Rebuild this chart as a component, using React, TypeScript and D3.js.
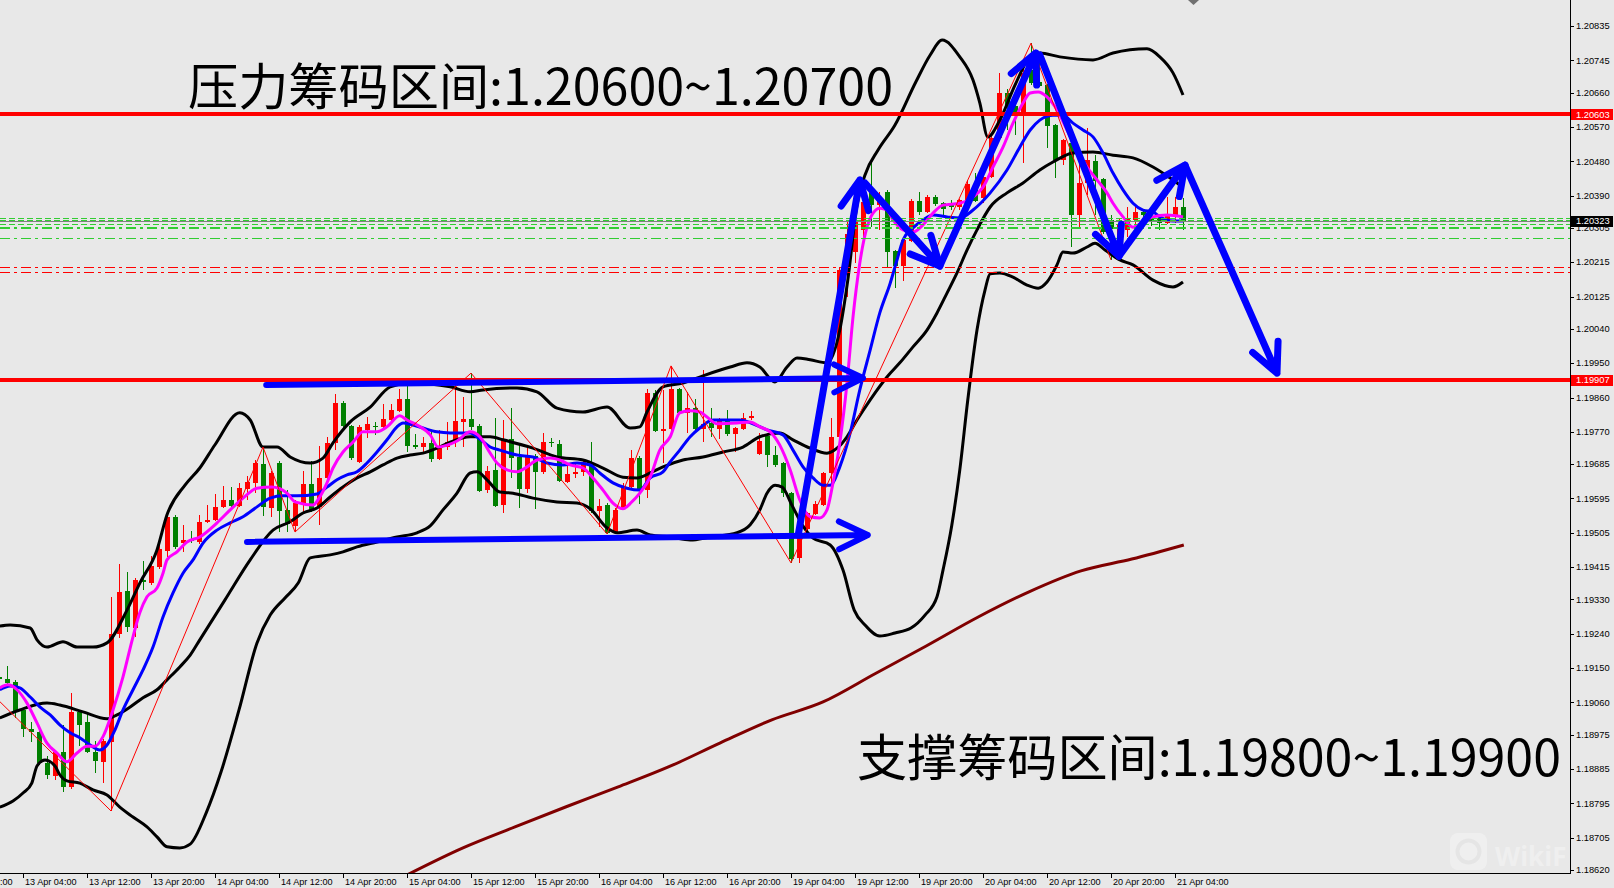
import React from 'react';
import * as d3 from 'd3';

// ---------------- data ----------------
const FIRST_BAR = -3; // index of first candle (13 Apr 04:00 = 0, one bar per hour, weekend removed)
// [open, high, low, close]
const ohlc: number[][] = [
  [1.19127, 1.19140, 1.19114, 1.19121], // -3
  [1.19121, 1.19155, 1.19106, 1.19111],
  [1.19114, 1.19119, 1.19019, 1.19035],
  [1.19040, 1.19045, 1.18970, 1.18990], // 0
  [1.18990, 1.19009, 1.18956, 1.18983],
  [1.18983, 1.18988, 1.18896, 1.18901],
  [1.18901, 1.18919, 1.18859, 1.18870],
  [1.18867, 1.18935, 1.18856, 1.18930],
  [1.18930, 1.19001, 1.18825, 1.18838], // 5
  [1.18838, 1.19085, 1.18832, 1.19035],
  [1.19035, 1.19040, 1.18945, 1.19001],
  [1.19009, 1.19032, 1.18927, 1.18930],
  [1.18930, 1.18958, 1.18875, 1.18906],
  [1.18904, 1.18964, 1.18848, 1.18958], // 10
  [1.18956, 1.19337, 1.18775, 1.19240],
  [1.19240, 1.19424, 1.19229, 1.19350],
  [1.19352, 1.19402, 1.19245, 1.19258],
  [1.19255, 1.19386, 1.19232, 1.19381],
  [1.19381, 1.19431, 1.19355, 1.19376], // 15
  [1.19373, 1.19444, 1.19368, 1.19418],
  [1.19415, 1.19476, 1.19410, 1.19463],
  [1.19457, 1.19557, 1.19442, 1.19547],
  [1.19547, 1.19552, 1.19463, 1.19468],
  [1.19478, 1.19526, 1.19455, 1.19486], // 20
  [1.19489, 1.19510, 1.19478, 1.19484],
  [1.19481, 1.19552, 1.19476, 1.19534],
  [1.19534, 1.19578, 1.19531, 1.19539],
  [1.19539, 1.19607, 1.19536, 1.19573],
  [1.19573, 1.19628, 1.19570, 1.19591], // 25
  [1.19591, 1.19625, 1.19565, 1.19575],
  [1.19575, 1.19636, 1.19573, 1.19622],
  [1.19620, 1.19654, 1.19591, 1.19638],
  [1.19636, 1.19696, 1.19609, 1.19688],
  [1.19686, 1.19730, 1.19549, 1.19573], // 30
  [1.19570, 1.19667, 1.19547, 1.19662],
  [1.19688, 1.19693, 1.19507, 1.19562],
  [1.19565, 1.19617, 1.19507, 1.19528],
  [1.19523, 1.19591, 1.19507, 1.19583],
  [1.19583, 1.19667, 1.19560, 1.19633], // 35
  [1.19633, 1.19693, 1.19560, 1.19565],
  [1.19573, 1.19733, 1.19526, 1.19649],
  [1.19649, 1.19757, 1.19646, 1.19741],
  [1.19741, 1.19869, 1.19722, 1.19846],
  [1.19846, 1.19851, 1.19772, 1.19785], // 40
  [1.19785, 1.19788, 1.19696, 1.19701],
  [1.19691, 1.19788, 1.19688, 1.19783],
  [1.19775, 1.19809, 1.19754, 1.19791],
  [1.19785, 1.19796, 1.19762, 1.19783],
  [1.19783, 1.19843, 1.19780, 1.19804], // 45
  [1.19801, 1.19843, 1.19798, 1.19827],
  [1.19825, 1.19883, 1.19822, 1.19856],
  [1.19856, 1.19893, 1.19717, 1.19733],
  [1.19736, 1.19765, 1.19725, 1.19730],
  [1.19730, 1.19757, 1.19717, 1.19741], // 50
  [1.19741, 1.19772, 1.19691, 1.19699],
  [1.19699, 1.19775, 1.19696, 1.19730],
  [1.19730, 1.19796, 1.19722, 1.19743],
  [1.19743, 1.19898, 1.19730, 1.19798],
  [1.19796, 1.19861, 1.19730, 1.19804], // 55
  [1.19804, 1.19924, 1.19775, 1.19783],
  [1.19785, 1.19791, 1.19612, 1.19615],
  [1.19617, 1.19680, 1.19609, 1.19667],
  [1.19670, 1.19806, 1.19573, 1.19575],
  [1.19578, 1.19801, 1.19557, 1.19751], // 60
  [1.19751, 1.19832, 1.19649, 1.19701],
  [1.19704, 1.19741, 1.19570, 1.19620],
  [1.19620, 1.19730, 1.19609, 1.19706],
  [1.19706, 1.19712, 1.19568, 1.19665],
  [1.19665, 1.19767, 1.19659, 1.19743], // 65
  [1.19743, 1.19754, 1.19730, 1.19741],
  [1.19738, 1.19749, 1.19638, 1.19641],
  [1.19638, 1.19688, 1.19636, 1.19659],
  [1.19659, 1.19691, 1.19649, 1.19665],
  [1.19665, 1.19696, 1.19654, 1.19691], // 70
  [1.19686, 1.19743, 1.19557, 1.19562],
  [1.19562, 1.19594, 1.19520, 1.19575],
  [1.19578, 1.19583, 1.19502, 1.19505],
  [1.19505, 1.19570, 1.19502, 1.19565],
  [1.19568, 1.19636, 1.19565, 1.19628], // 75
  [1.19625, 1.19722, 1.19622, 1.19701],
  [1.19701, 1.19706, 1.19580, 1.19617],
  [1.19617, 1.19883, 1.19596, 1.19872],
  [1.19872, 1.19880, 1.19770, 1.19772],
  [1.19772, 1.19880, 1.19688, 1.19777], // 80
  [1.19777, 1.19943, 1.19762, 1.19883],
  [1.19883, 1.19885, 1.19817, 1.19820],
  [1.19820, 1.19875, 1.19767, 1.19833],
  [1.19833, 1.19856, 1.19767, 1.19777],
  [1.19777, 1.19932, 1.19743, 1.19791], // 85
  [1.19793, 1.19832, 1.19757, 1.19780],
  [1.19777, 1.19806, 1.19751, 1.19801],
  [1.19801, 1.19827, 1.19759, 1.19765],
  [1.19765, 1.19783, 1.19717, 1.19780],
  [1.19777, 1.19820, 1.19775, 1.19806], // 90
  [1.19806, 1.19825, 1.19801, 1.19811],
  [1.19712, 1.19767, 1.19709, 1.19746],
  [1.19759, 1.19767, 1.19678, 1.19709],
  [1.19709, 1.19733, 1.19678, 1.19683],
  [1.19688, 1.19691, 1.19599, 1.19609], // 95
  [1.19609, 1.19612, 1.19426, 1.19437],
  [1.19439, 1.19520, 1.19426, 1.19512],
  [1.19515, 1.19560, 1.19507, 1.19557],
  [1.19554, 1.19589, 1.19552, 1.19581],
  [1.19578, 1.19665, 1.19575, 1.19662], // 100
  [1.19662, 1.19806, 1.19625, 1.19757],
  [1.19757, 1.20203, 1.19754, 1.20195],
  [1.20195, 1.20321, 1.20124, 1.20289],
  [1.20242, 1.20352, 1.20213, 1.20321],
  [1.20300, 1.20399, 1.20273, 1.20373], // 105
  [1.20410, 1.20475, 1.20308, 1.20365],
  [1.20365, 1.20399, 1.20300, 1.20386],
  [1.20399, 1.20405, 1.20200, 1.20242],
  [1.20244, 1.20247, 1.20147, 1.20205],
  [1.20205, 1.20279, 1.20166, 1.20273], // 110
  [1.20271, 1.20381, 1.20268, 1.20376],
  [1.20376, 1.20399, 1.20339, 1.20347],
  [1.20347, 1.20391, 1.20344, 1.20386],
  [1.20386, 1.20391, 1.20363, 1.20368],
  [1.20370, 1.20373, 1.20334, 1.20355], // 115
  [1.20365, 1.20378, 1.20352, 1.20360],
  [1.20360, 1.20381, 1.20352, 1.20378],
  [1.20378, 1.20431, 1.20376, 1.20420],
  [1.20407, 1.20449, 1.20373, 1.20376],
  [1.20384, 1.20449, 1.20370, 1.20439], // 120
  [1.20439, 1.20554, 1.20436, 1.20541],
  [1.20541, 1.20712, 1.20536, 1.20659],
  [1.20659, 1.20670, 1.20562, 1.20622],
  [1.20625, 1.20641, 1.20549, 1.20607],
  [1.20607, 1.20738, 1.20475, 1.20712], // 125
  [1.20720, 1.20790, 1.20680, 1.20685],
  [1.20688, 1.20764, 1.20675, 1.20677],
  [1.20680, 1.20683, 1.20515, 1.20573],
  [1.20575, 1.20578, 1.20436, 1.20483],
  [1.20483, 1.20538, 1.20470, 1.20536], // 130
  [1.20528, 1.20530, 1.20255, 1.20339],
  [1.20339, 1.20475, 1.20302, 1.20423],
  [1.20423, 1.20567, 1.20391, 1.20483],
  [1.20481, 1.20496, 1.20339, 1.20428],
  [1.20433, 1.20436, 1.20289, 1.20294], // 135
  [1.20326, 1.20339, 1.20221, 1.20302],
  [1.20279, 1.20331, 1.20260, 1.20315],
  [1.20300, 1.20360, 1.20281, 1.20328],
  [1.20326, 1.20363, 1.20310, 1.20347],
  [1.20347, 1.20349, 1.20321, 1.20339], // 140
  [1.20334, 1.20352, 1.20310, 1.20321],
  [1.20331, 1.20342, 1.20300, 1.20318],
  [1.20318, 1.20386, 1.20315, 1.20342],
  [1.20339, 1.20386, 1.20318, 1.20360],
  [1.20360, 1.20384, 1.20300, 1.20323], // 145
];

const TIME_LABEL_FIRST = -8;
const TIME_LABEL_STEP = 8;
const timeLabels = [
  '12 Apr 20:00', '13 Apr 04:00', '13 Apr 12:00', '13 Apr 20:00', '14 Apr 04:00', '14 Apr 12:00',
  '14 Apr 20:00', '15 Apr 04:00', '15 Apr 12:00', '15 Apr 20:00', '16 Apr 04:00', '16 Apr 12:00',
  '16 Apr 20:00', '19 Apr 04:00', '19 Apr 12:00', '19 Apr 20:00', '20 Apr 04:00', '20 Apr 12:00',
  '20 Apr 20:00', '21 Apr 04:00',
];

const priceTicks = [
  '1.20835', '1.20745', '1.20660', '1.20570', '1.20480', '1.20390', '1.20305', '1.20215', '1.20125',
  '1.20040', '1.19950', '1.19860', '1.19770', '1.19685', '1.19595', '1.19505', '1.19415', '1.19330',
  '1.19240', '1.19150', '1.19060', '1.18975', '1.18885', '1.18795', '1.18705', '1.18620',
];

const resistanceLevel = 1.20603;
const supportLevel = 1.19907;
const bidPrice = 1.20323;
const greenDashLevels = [1.20332, 1.20327, 1.20316];
const greenDashDotLevels = [1.20308, 1.20278];
const redDashDotLevels = [1.20203, 1.20189];

// [bar index, price]
const maFast: [number, number][] = [
  [-2.9, 1.19098], [-1.9, 1.19106], [-0.75, 1.19093], [0.5, 1.19058], [1.75, 1.19006], [3, 1.18953],
  [4.25, 1.18927], [5.5, 1.18904], [6.75, 1.18927], [8, 1.18945], [9, 1.18945], [10, 1.18970],
  [11.25, 1.19040], [12.5, 1.19127], [13.75, 1.19232], [14.6, 1.19295], [15.5, 1.19337], [16.75, 1.19360],
  [17.5, 1.19399], [18, 1.19434], [19.25, 1.19455], [20.5, 1.19481], [22.1, 1.19494], [24.25, 1.19531],
  [25.9, 1.19565], [27.5, 1.19596], [29.25, 1.19622], [31.1, 1.19625], [33, 1.19609], [34, 1.19586],
  [36.25, 1.19578], [37.1, 1.19599], [38, 1.19636], [38.75, 1.19675], [40, 1.19717], [41.25, 1.19743],
  [42.5, 1.19770], [44.25, 1.19770], [45.5, 1.19783], [47.1, 1.19812], [48, 1.19801], [49.25, 1.19788],
  [50.9, 1.19762], [51.9, 1.19730], [53, 1.19735], [54.25, 1.19746], [55.9, 1.19770], [57.1, 1.19757],
  [58.4, 1.19714], [59.25, 1.19688], [60.5, 1.19670], [61.75, 1.19665], [63, 1.19678], [64.25, 1.19696],
  [65.9, 1.19701], [67.1, 1.19696], [68.4, 1.19683], [70, 1.19675], [71.25, 1.19649], [72.5, 1.19617],
  [73.75, 1.19583], [75, 1.19568], [76.1, 1.19586], [77.1, 1.19609], [78.4, 1.19651], [79.6, 1.19722],
  [80.9, 1.19757], [82.1, 1.19820], [83.4, 1.19825], [84.6, 1.19822], [85.5, 1.19809], [86.75, 1.19791],
  [89.25, 1.19793], [90.9, 1.19796], [92.1, 1.19783], [93.4, 1.19770], [94.6, 1.19735], [95.9, 1.19670],
  [97.1, 1.19591], [98.4, 1.19547], [99.6, 1.19544], [100.5, 1.19565], [101.25, 1.19636], [102.1, 1.19741],
  [103, 1.19898], [103.75, 1.20071], [104.6, 1.20213], [105.5, 1.20307], [106.25, 1.20344], [107.1, 1.20357],
  [108, 1.20352], [108.75, 1.20326], [110, 1.20300], [111.25, 1.20294], [112.5, 1.20313], [113.75, 1.20344],
  [115, 1.20365], [117.1, 1.20370], [118.75, 1.20386], [120, 1.20412], [121.25, 1.20465], [122.5, 1.20517],
  [123.75, 1.20580], [125, 1.20633], [125.9, 1.20659], [126.9, 1.20662], [128, 1.20649], [129.25, 1.20615],
  [130.5, 1.20562], [131.75, 1.20510], [133, 1.20465], [134.25, 1.20431], [135.5, 1.20397], [136.25, 1.20370],
  [137.5, 1.20334], [138.75, 1.20307], [140, 1.20321], [141.25, 1.20334], [143, 1.20339], [145, 1.20334],
];

const maSlow: [number, number][] = [
  [-2.9, 1.19093], [-1.6, 1.19103], [-0.4, 1.19098], [0.9, 1.19074], [2.1, 1.19048], [3.4, 1.19027],
  [4.6, 1.19001], [5.9, 1.18980], [7.1, 1.18967], [8.4, 1.18948], [9.6, 1.18935], [10.5, 1.18948],
  [11.5, 1.18988], [12.5, 1.19040], [13.75, 1.19093], [15, 1.19145], [16.25, 1.19205], [17.5, 1.19284],
  [18.75, 1.19347], [20, 1.19399], [21.25, 1.19434], [22.5, 1.19478], [24.25, 1.19512], [25.9, 1.19531],
  [27.5, 1.19547], [29.25, 1.19573], [30.9, 1.19596], [32.5, 1.19602], [34.25, 1.19602], [36.75, 1.19607],
  [38, 1.19625], [39.25, 1.19644], [40.5, 1.19657], [41.75, 1.19665], [43, 1.19688], [44.25, 1.19717],
  [45.5, 1.19749], [46.75, 1.19783], [47.5, 1.19793], [48.75, 1.19788], [50, 1.19780], [51.75, 1.19770],
  [53.4, 1.19767], [55.9, 1.19767], [57.1, 1.19751], [58.4, 1.19730], [59.6, 1.19722], [61.75, 1.19709],
  [63.75, 1.19704], [65.5, 1.19688], [67.5, 1.19683], [69.25, 1.19688], [70.9, 1.19683], [72.1, 1.19662],
  [73.75, 1.19636], [75.5, 1.19622], [77.1, 1.19617], [78.4, 1.19649], [80, 1.19665], [80.9, 1.19691],
  [82.1, 1.19722], [83.4, 1.19757], [84.6, 1.19780], [86.25, 1.19801], [89.6, 1.19801], [91.25, 1.19791],
  [93, 1.19775], [95, 1.19762], [96.25, 1.19722], [97.5, 1.19678], [98.75, 1.19649], [100, 1.19630],
  [100.9, 1.19630], [102.1, 1.19678], [103.4, 1.19767], [104.6, 1.19880], [105.9, 1.19985], [107.1, 1.20082],
  [108.4, 1.20160], [109.25, 1.20221], [110, 1.20273], [111.25, 1.20305], [112.5, 1.20326], [113.75, 1.20339],
  [115.5, 1.20334], [117.1, 1.20331], [118.75, 1.20352], [120.9, 1.20397], [123, 1.20457], [124.6, 1.20517],
  [125.9, 1.20562], [127.1, 1.20588], [128.75, 1.20601], [130, 1.20601], [131.25, 1.20580], [132.5, 1.20562],
  [133.75, 1.20544], [135, 1.20502], [136.25, 1.20449], [137.5, 1.20405], [138.75, 1.20370], [140, 1.20352],
  [141.25, 1.20347], [142.1, 1.20334], [143.75, 1.20323], [145, 1.20323],
];

const bbUpper: [number, number][] = [
  [-2.9, 1.19260], [-1.6, 1.19263], [0.9, 1.19255], [1.75, 1.19224], [3, 1.19205], [5, 1.19219],
  [6.75, 1.19205], [8.75, 1.19205], [10.5, 1.19216], [13, 1.19302], [14.6, 1.19373], [16.75, 1.19460],
  [18, 1.19552], [20.25, 1.19630], [22.1, 1.19675], [24, 1.19736], [27.1, 1.19820], [28.4, 1.19801],
  [30, 1.19730], [31.75, 1.19730], [33.4, 1.19704], [35.9, 1.19688], [37.5, 1.19701], [38.75, 1.19741],
  [40.9, 1.19796], [43.4, 1.19835], [45.9, 1.19888], [48.4, 1.19898], [53.4, 1.19888], [55.9, 1.19875],
  [57.5, 1.19880], [61.75, 1.19885], [64.25, 1.19875], [66.75, 1.19832], [70, 1.19822], [73, 1.19835],
  [75.9, 1.19780], [77.1, 1.19783], [78, 1.19822], [80, 1.19888], [82.5, 1.19898], [85, 1.19917],
  [88.4, 1.19940], [90.5, 1.19951], [92.1, 1.19940], [94, 1.19901], [95.5, 1.19940], [96.75, 1.19964],
  [98.4, 1.19959], [100.5, 1.19951], [102.1, 1.20037], [103.1, 1.20168], [104.25, 1.20365], [105.25, 1.20444],
  [106.9, 1.20510], [109, 1.20575], [111.6, 1.20688], [113.4, 1.20759], [114.9, 1.20798], [117.1, 1.20754],
  [118.75, 1.20693], [119.6, 1.20633], [120.6, 1.20544], [122.1, 1.20588], [124, 1.20680], [125.9, 1.20754],
  [127.1, 1.20764], [129.6, 1.20754], [133.75, 1.20746], [136.25, 1.20764], [140.5, 1.20775], [142.1, 1.20754],
  [143.75, 1.20712], [145, 1.20654],
];

const bbMiddle: [number, number][] = [
  [-2.9, 1.19019], [-0.4, 1.19040], [3, 1.19058], [4.6, 1.19053], [7.5, 1.19035], [10.5, 1.19017],
  [11.75, 1.19027], [13.4, 1.19048], [15, 1.19072], [16.75, 1.19093], [18, 1.19119], [19.6, 1.19153],
  [20.9, 1.19184], [22.1, 1.19224], [25.25, 1.19329], [28.4, 1.19434], [31.25, 1.19512], [33.4, 1.19534],
  [35, 1.19557], [36.75, 1.19570], [38.4, 1.19599], [40, 1.19625], [41.75, 1.19649], [43.4, 1.19665],
  [45, 1.19683], [46.75, 1.19701], [48.4, 1.19709], [50, 1.19714], [51.75, 1.19727], [53.4, 1.19743],
  [55.9, 1.19757], [58.4, 1.19757], [60, 1.19749], [63.75, 1.19727], [66.75, 1.19704], [70, 1.19696],
  [72.5, 1.19675], [75, 1.19651], [76.75, 1.19649], [78.4, 1.19662], [80, 1.19678], [82.5, 1.19696],
  [85, 1.19704], [87.5, 1.19717], [90, 1.19730], [92.1, 1.19757], [94.6, 1.19767], [96.25, 1.19749],
  [98.4, 1.19727], [100.5, 1.19714], [101.75, 1.19727], [103, 1.19757], [104.25, 1.19801], [105.9, 1.19854],
  [108, 1.19914], [109.6, 1.19951], [111.25, 1.19993], [113, 1.20037], [114.25, 1.20082], [115.5, 1.20134],
  [116.75, 1.20187], [118, 1.20247], [119.25, 1.20300], [120.9, 1.20360], [123, 1.20397], [125, 1.20423],
  [127.1, 1.20457], [128.75, 1.20478], [131.25, 1.20502], [133.75, 1.20504], [136.25, 1.20496], [138.75, 1.20489],
  [141.25, 1.20465], [143.75, 1.20431], [145, 1.20412],
];

const bbLower: [number, number][] = [
  [-2.9, 1.18785], [-1.25, 1.18801], [0, 1.18822], [1.1, 1.18848], [1.75, 1.18893], [2.75, 1.18909],
  [4, 1.18893], [4.6, 1.18870], [5.5, 1.18854], [7.1, 1.18848], [8.75, 1.18830], [10.5, 1.18817],
  [12.1, 1.18785], [13.75, 1.18759], [15.5, 1.18733], [16.75, 1.18707], [18, 1.18681], [19.6, 1.18678],
  [20.9, 1.18688], [22.9, 1.18770], [24.75, 1.18877], [27, 1.19040], [29.25, 1.19216], [30.9, 1.19289],
  [32.75, 1.19334], [34.4, 1.19373], [35.9, 1.19439], [38.4, 1.19447], [40, 1.19455], [41.75, 1.19468],
  [44.25, 1.19481], [46.75, 1.19494], [49.25, 1.19505], [50.9, 1.19523], [52.5, 1.19565], [54.25, 1.19609],
  [55.9, 1.19662], [56.75, 1.19665], [58, 1.19644], [59.6, 1.19612], [61.25, 1.19609], [63.75, 1.19596],
  [66.75, 1.19586], [69.25, 1.19583], [70.9, 1.19568], [73, 1.19518], [74.25, 1.19505], [76.75, 1.19512],
  [78.4, 1.19499], [80.9, 1.19494], [83.4, 1.19486], [85.9, 1.19494], [89.25, 1.19505], [90.9, 1.19526],
  [92.1, 1.19565], [93, 1.19609], [94, 1.19630], [94.9, 1.19625], [96.1, 1.19578], [97.4, 1.19526],
  [98.75, 1.19491], [100.9, 1.19473], [102.5, 1.19407], [103.9, 1.19302], [105.25, 1.19263], [107.1, 1.19234],
  [109, 1.19242], [111, 1.19255], [112.75, 1.19289], [114.25, 1.19337], [115, 1.19407], [116.1, 1.19525],
  [117.1, 1.19670], [118.1, 1.19854], [119.25, 1.20037], [120.25, 1.20142], [120.9, 1.20185], [122.1, 1.20187],
  [123.75, 1.20176], [125.5, 1.20155], [126.9, 1.20147], [128, 1.20163], [129.25, 1.20208], [130, 1.20242],
  [131.25, 1.20239], [133, 1.20255], [134, 1.20265], [135.25, 1.20247], [137.1, 1.20221], [138.75, 1.20208],
  [141.25, 1.20168], [143.75, 1.20150], [145, 1.20163],
];

const ma200: [number, number][] = [
  [48, 1.18607], [55, 1.18678], [61.5, 1.18733], [67.9, 1.18786], [74.4, 1.18838], [80.75, 1.18891],
  [87.1, 1.18953], [93.6, 1.19014], [100, 1.19061], [106.5, 1.19135], [112.9, 1.19208], [119.4, 1.19284],
  [125.75, 1.19350], [132.25, 1.19405], [138.6, 1.19436], [145.1, 1.19473],
];

const zigzag: [number, number][] = [
  [-3, 1.19064], [11, 1.18775], [30, 1.19730], [34, 1.19507], [56, 1.19924], [73, 1.19502],
  [81, 1.19943], [96, 1.19426], [126, 1.20790], [136, 1.20221],
];

// drawn arrows: [startBar, startPrice, endBar, endPrice]
const arrows: [number, number, number, number][] = [
  [30.4, 1.19893, 105.0, 1.19911],
  [28.0, 1.19481, 105.6, 1.19499],
  [96.9, 1.19499, 104.6, 1.20431],
  [105.25, 1.20423, 114.6, 1.20205],
  [114.6, 1.20205, 126.6, 1.20764],
  [127.1, 1.20759, 137.0, 1.20231],
  [137.0, 1.20231, 145.25, 1.20470],
  [145.25, 1.20470, 156.75, 1.19924],
];

const textTop = '压力筹码区间:1.20600~1.20700';
const textBottom = '支撑筹码区间:1.19800~1.19900';
const watermark = 'WikiF';

// ---------------- component ----------------
export default function App() {
  const W = 1614, H = 888;
  const R = 1570, B = 873;
  const x = d3.scaleLinear().domain([0, 144]).range([23, 1175]);
  const y = d3.scaleLinear().domain([1.1862, 1.20835]).range([870, 26]);
  const smooth = d3.line<[number, number]>().x(d => x(d[0])).y(d => y(d[1])).curve(d3.curveMonotoneX);
  const straight = d3.line<[number, number]>().x(d => x(d[0])).y(d => y(d[1]));

  const bars = ohlc.map((d, k) => ({ i: FIRST_BAR + k, o: d[0], h: d[1], l: d[2], c: d[3] }));

  const arrowPaths = arrows.map(([i1, p1, i2, p2]) => {
    const x1 = x(i1), y1 = y(p1), x2 = x(i2), y2 = y(p2);
    const a = Math.atan2(y2 - y1, x2 - x1);
    const len = 32, spread = 0.45;
    const wx1 = x2 - len * Math.cos(a - spread), wy1 = y2 - len * Math.sin(a - spread);
    const wx2 = x2 - len * Math.cos(a + spread), wy2 = y2 - len * Math.sin(a + spread);
    return `M${x1},${y1}L${x2},${y2}M${wx1},${wy1}L${x2},${y2}L${wx2},${wy2}`;
  });

  const hline = (p: number) => Math.round(y(p)) + 0.5;
  const axisFont = 'Liberation Sans, Arial, sans-serif';
  const cjkFont = '"Noto Sans CJK SC", "Noto Sans", sans-serif';

  const boxes = [
    { p: resistanceLevel, fill: '#ff0000' },
    { p: bidPrice, fill: '#000000' },
    { p: supportLevel, fill: '#ff0000' },
  ];

  return (
    <svg width={W} height={H} style={{ position: 'absolute', left: 0, top: 0, display: 'block' }}>
      <defs>
        <clipPath id="plotClip">
          <rect x={0} y={0} width={R} height={B} />
        </clipPath>
      </defs>
      <rect x={0} y={0} width={W} height={H} fill="#e8e8e8" />

      <g clipPath="url(#plotClip)">
        {/* candles */}
        <g shapeRendering="crispEdges">
          {bars.map(b => {
            const xc = Math.round(x(b.i));
            const up = b.c >= b.o;
            const col = up ? '#ff0000' : '#008000';
            const yt = y(Math.max(b.o, b.c));
            const yb = y(Math.min(b.o, b.c));
            return (
              <g key={b.i}>
                <rect x={xc} y={y(b.h)} width={1} height={Math.max(1, y(b.l) - y(b.h))} fill={col} />
                <rect x={xc - 2} y={yt} width={5} height={Math.max(1, yb - yt)} fill={col} />
              </g>
            );
          })}
        </g>

        {/* indicators */}
        <path d={smooth(ma200) || ''} fill="none" stroke="#800000" strokeWidth={3} />
        <path d={smooth(bbUpper) || ''} fill="none" stroke="#000" strokeWidth={3} />
        <path d={smooth(bbMiddle) || ''} fill="none" stroke="#000" strokeWidth={3} />
        <path d={smooth(bbLower) || ''} fill="none" stroke="#000" strokeWidth={3} />
        <path d={smooth(maSlow) || ''} fill="none" stroke="#0000ff" strokeWidth={3} />
        <path d={smooth(maFast) || ''} fill="none" stroke="#ff00ff" strokeWidth={3} />
        <path d={straight(zigzag) || ''} fill="none" stroke="#ff0000" strokeWidth={1} />

        {/* horizontal levels */}
        <g shapeRendering="crispEdges">
          {greenDashLevels.map((p, k) => (
            <line key={'g' + k} x1={0} x2={R} y1={hline(p)} y2={hline(p)} stroke="#32cd32" strokeWidth={1} strokeDasharray="6,3" />
          ))}
          {greenDashDotLevels.map((p, k) => (
            <line key={'gd' + k} x1={0} x2={R} y1={hline(p)} y2={hline(p)} stroke="#32cd32" strokeWidth={k === 0 ? 2 : 1} strokeDasharray="10,4,3,4" />
          ))}
          {redDashDotLevels.map((p, k) => (
            <line key={'rd' + k} x1={0} x2={R} y1={hline(p)} y2={hline(p)} stroke="#ff0000" strokeWidth={1} strokeDasharray="10,4,3,4" />
          ))}
          <line x1={0} x2={R} y1={hline(bidPrice)} y2={hline(bidPrice)} stroke="#808080" strokeWidth={1} />
          <line x1={0} x2={R} y1={y(resistanceLevel)} y2={y(resistanceLevel)} stroke="#ff0000" strokeWidth={4} />
          <line x1={0} x2={R} y1={y(supportLevel)} y2={y(supportLevel)} stroke="#ff0000" strokeWidth={4} />
        </g>

        {/* drawn arrows */}
        {arrowPaths.map((d, k) => (
          <path key={'a' + k} d={d} fill="none" stroke="#0000ff" strokeWidth={k < 2 ? 6 : 7} strokeLinecap="round" strokeLinejoin="round" />
        ))}

        {/* watermark */}
        <g opacity={0.55}>
          <rect x={1450} y={833} width={37} height={37} rx={8} fill="#f6f6f6" />
          <circle cx={1468.5} cy={851.5} r={11} fill="none" stroke="#e4e4e4" strokeWidth={4} />
          <text x={1495} y={866} fontFamily="Open Sans, sans-serif" fontWeight={700} fontSize={26} fill="#f6f6f6">{watermark}</text>
        </g>

        {/* annotation texts */}
        <text x={188} y={105} fontFamily={cjkFont} fontSize={50} fill="#000" textLength={705} lengthAdjust="spacingAndGlyphs">{textTop}</text>
        <text x={857} y={776} fontFamily={cjkFont} fontSize={50} fill="#000" textLength={704} lengthAdjust="spacingAndGlyphs">{textBottom}</text>
      </g>

      {/* axes */}
      <g shapeRendering="crispEdges">
        <line x1={R + 0.5} x2={R + 0.5} y1={0} y2={B + 1} stroke="#000" strokeWidth={1} />
        <line x1={0} x2={R + 1} y1={B + 0.5} y2={B + 0.5} stroke="#000" strokeWidth={1} />
        {priceTicks.map(t => {
          const yy = Math.round(y(+t)) + 0.5;
          return <line key={'pt' + t} x1={R} x2={R + 4} y1={yy} y2={yy} stroke="#000" />;
        })}
        {timeLabels.map((t, k) => {
          const xx = Math.round(x(TIME_LABEL_FIRST + k * TIME_LABEL_STEP)) + 0.5;
          return <line key={'tt' + k} x1={xx} x2={xx} y1={B} y2={B + 5} stroke="#000" />;
        })}
      </g>
      {priceTicks.map(t => (
        <text key={'pl' + t} x={R + 6} y={y(+t)} dy="0.35em" fontFamily={axisFont} fontSize={9.3} fill="#000">{t}</text>
      ))}
      {boxes.map((b, k) => (
        <g key={'bx' + k}>
          <rect x={R + 1} y={Math.round(y(b.p)) - 5} width={42} height={11} fill={b.fill} shapeRendering="crispEdges" />
          <text x={R + 6} y={y(b.p)} dy="0.35em" fontFamily={axisFont} fontSize={9.3} fill="#fff">{b.p.toFixed(5)}</text>
        </g>
      ))}
      {timeLabels.map((t, k) => (
        <text key={'tl' + k} x={x(TIME_LABEL_FIRST + k * TIME_LABEL_STEP) + 2} y={885} fontFamily={axisFont} fontSize={9.1} fill="#000">{t}</text>
      ))}
      <path d="M1188,0L1199,0L1193.5,5Z" fill="#707070" />
    </svg>
  );
}
